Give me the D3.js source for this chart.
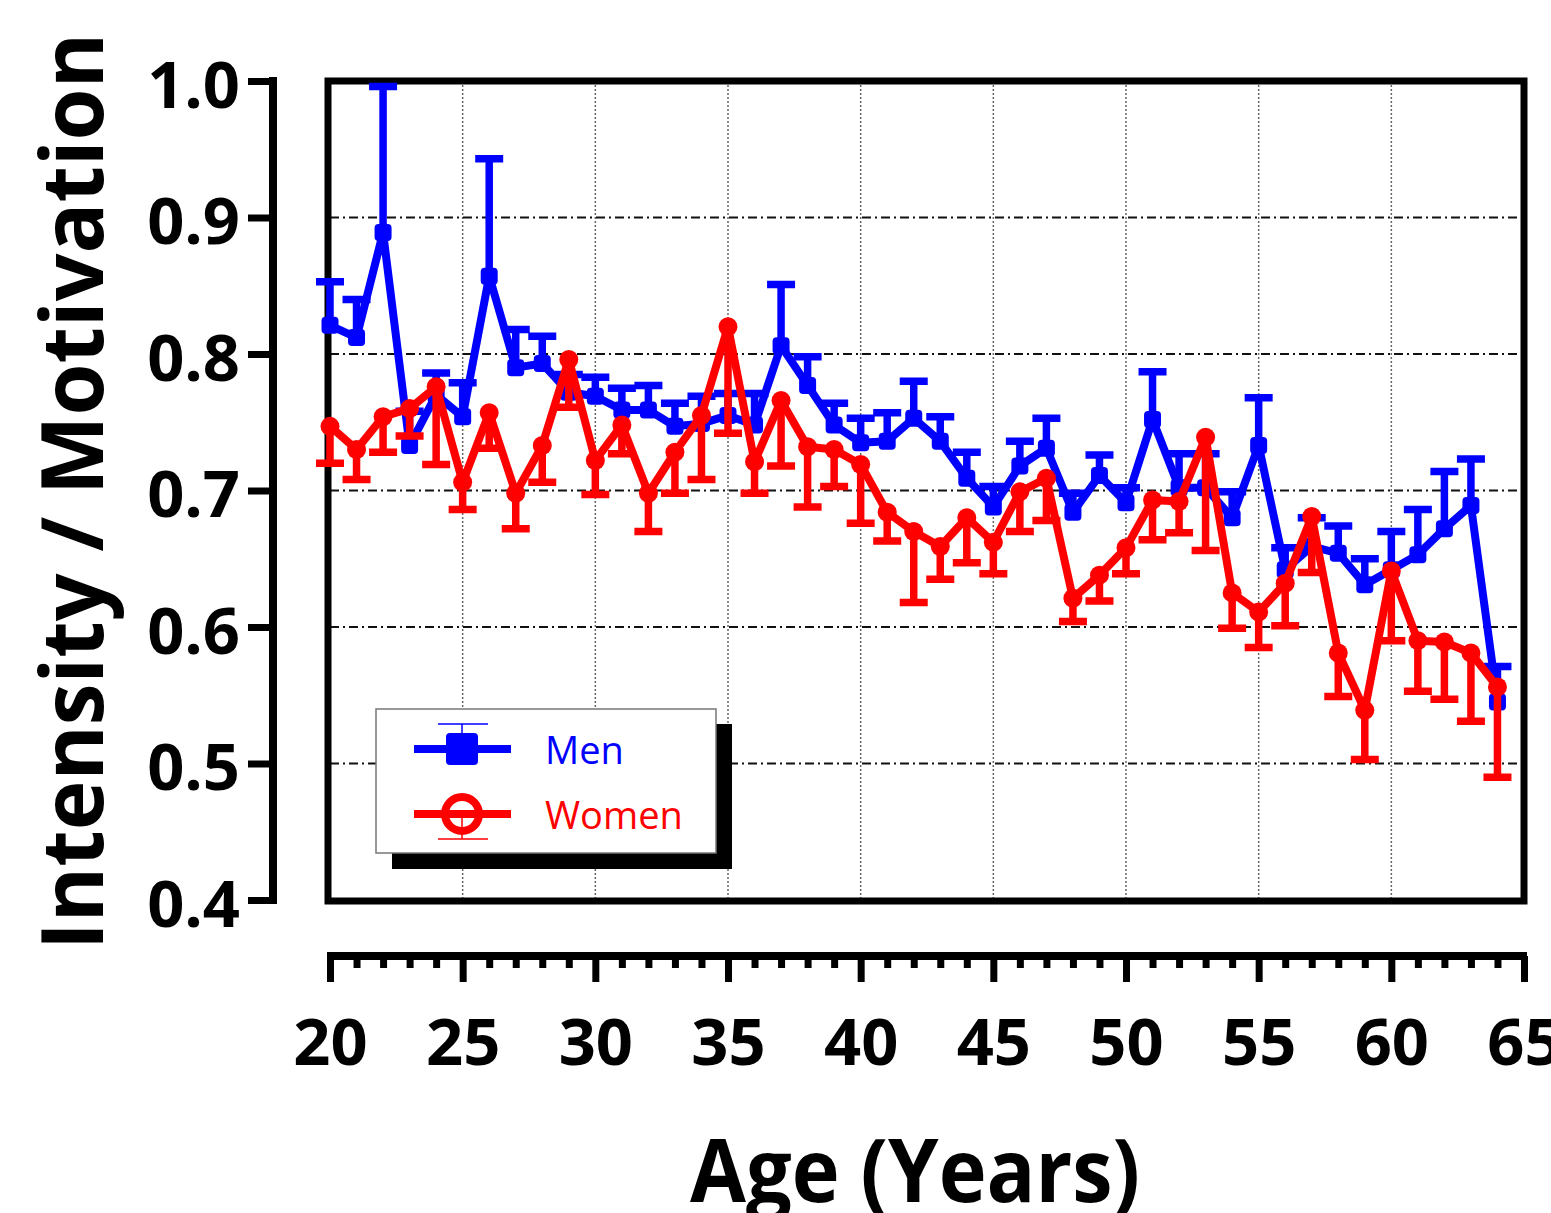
<!DOCTYPE html>
<html>
<head>
<meta charset="utf-8">
<script src="https://cdn.jsdelivr.net/npm/d3@7"></script>
<style>
  html, body { margin: 0; padding: 0; background: #fff; }
  svg { display: block; font-family: 'Open Sans', sans-serif; }
</style>
</head>
<body>
<script>
/* globals d3 */
// Data: mean score per year of age, one-sided SEM (men up, women down)
const ages = [20, 21, 22, 23, 24, 25, 26, 27, 28, 29, 30, 31, 32, 33, 34, 35, 36, 37, 38, 39, 40, 41, 42,
  43, 44, 45, 46, 47, 48, 49, 50, 51, 52, 53, 54, 55, 56, 57, 58, 59, 60, 61, 62, 63, 64]
const menMean = [0.821, 0.812, 0.889, 0.733, 0.770, 0.754, 0.857, 0.790, 0.793, 0.772, 0.769, 0.759, 0.759,
  0.747, 0.749, 0.755, 0.748, 0.806, 0.777, 0.748, 0.735, 0.736, 0.753, 0.736, 0.709, 0.688, 0.718, 0.731,
  0.684, 0.711, 0.691, 0.752, 0.702, 0.702, 0.680, 0.733, 0.642, 0.659, 0.654, 0.631, 0.642, 0.653, 0.672,
  0.689, 0.545]
const menSem = [0.032, 0.028, 0.107, 0.025, 0.016, 0.025, 0.086, 0.028, 0.020, 0.013, 0.014, 0.016, 0.018,
  0.017, 0.020, 0.016, 0.023, 0.045, 0.021, 0.016, 0.018, 0.021, 0.027, 0.018, 0.019, 0.015, 0.018, 0.022,
  0.014, 0.015, 0.011, 0.035, 0.025, 0.025, 0.019, 0.035, 0.016, 0.021, 0.020, 0.019, 0.028, 0.033, 0.042,
  0.034, 0.026]
const womenMean = [0.747, 0.730, 0.754, 0.760, 0.776, 0.706, 0.757, 0.698, 0.733, 0.796, 0.722, 0.748, 0.698,
  0.728, 0.755, 0.820, 0.721, 0.766, 0.732, 0.730, 0.719, 0.684, 0.670, 0.659, 0.680, 0.662, 0.699, 0.709,
  0.621, 0.638, 0.658, 0.693, 0.692, 0.739, 0.625, 0.611, 0.632, 0.681, 0.581, 0.539, 0.641, 0.590, 0.589,
  0.581, 0.556]
const womenSem = [0.027, 0.022, 0.026, 0.020, 0.057, 0.020, 0.026, 0.026, 0.027, 0.035, 0.025, 0.021, 0.028,
  0.030, 0.047, 0.078, 0.023, 0.048, 0.044, 0.027, 0.043, 0.021, 0.052, 0.024, 0.033, 0.023, 0.029, 0.031,
  0.017, 0.019, 0.019, 0.029, 0.023, 0.083, 0.026, 0.026, 0.031, 0.041, 0.032, 0.036, 0.051, 0.037, 0.042,
  0.050, 0.066]
const xTicks = [20, 25, 30, 35, 40, 45, 50, 55, 60, 65]
const yTicks = [0.4, 0.5, 0.6, 0.7, 0.8, 0.9, 1.0]

const width = 1551, height = 1213
const x = d3.scaleLinear().domain([20, 65]).range([330, 1524])
const y = d3.scaleLinear().domain([0.4, 1.0]).range([900, 81])

const svg = d3.select('body').append('svg')
  .attr('width', width)
  .attr('height', height)
  .attr('viewBox', [0, 0, width, height])

// Grid
svg.append('g')
  .selectAll('line')
  .data(xTicks.filter(d => d > 20 && d < 65))
  .join('line')
  .attr('x1', d => x(d)).attr('x2', d => x(d))
  .attr('y1', y(1.0)).attr('y2', y(0.4))
  .attr('stroke', '#666')
  .attr('stroke-width', 1.5)
  .attr('stroke-dasharray', '2,2')
svg.append('g')
  .selectAll('line')
  .data(yTicks.filter(d => d > 0.4 && d < 1.0))
  .join('line')
  .attr('x1', x(20)).attr('x2', x(65))
  .attr('y1', d => y(d)).attr('y2', d => y(d))
  .attr('stroke', '#111')
  .attr('stroke-width', 2)
  .attr('stroke-dasharray', '9,4,2,4')

// Plot frame
svg.append('rect')
  .attr('x', x(20) - 2).attr('y', y(1.0))
  .attr('width', x(65) - x(20) + 2).attr('height', y(0.4) - y(1.0) + 1)
  .attr('fill', 'none')
  .attr('stroke', '#000')
  .attr('stroke-width', 7)

// Y axis (offset to the left)
const yAxis = svg.append('g')
  .attr('transform', 'translate(273,0)')
  .call(d3.axisLeft(y).tickValues(yTicks).tickFormat(d3.format('.1f')).tickSize(25).tickSizeOuter(0).tickPadding(8))
yAxis.select('.domain').attr('stroke-width', 8).attr('d', `M0,${y(0.4) + 4}V${y(1.0) - 4}`)
yAxis.selectAll('.tick line').attr('stroke-width', 7)
yAxis.selectAll('.tick text')
  .attr('font-size', 65)
  .attr('font-weight', 'bold')
  .attr('font-family', 'Open Sans')
  .attr('fill', '#000')
  .attr('dy', '0.4em')

// X axis (offset below), minor tick every year
const xAxis = svg.append('g')
  .attr('transform', 'translate(0,956)')
  .call(d3.axisBottom(x).tickValues(ages.concat([65])).tickFormat(d => d % 5 === 0 ? d : '')
    .tickSize(26).tickSizeOuter(0).tickPadding(37))
xAxis.select('.domain').attr('stroke-width', 8).attr('d', `M${x(20) - 3},0H${x(65) + 3}`)
xAxis.selectAll('.tick line')
  .attr('stroke-width', 7)
  .attr('y2', d => d % 5 === 0 ? 26 : 12)
xAxis.selectAll('.tick text')
  .attr('font-size', 65)
  .attr('font-weight', 'bold')
  .attr('font-family', 'Open Sans')
  .attr('fill', '#000')

// Axis titles
svg.append('text')
  .attr('transform', 'translate(103,950) rotate(-90)')
  .attr('font-size', 86)
  .attr('font-weight', 'bold')
  .attr('textLength', 917)
  .attr('lengthAdjust', 'spacingAndGlyphs')
  .text('Intensity / Motivation')
svg.append('text')
  .attr('x', 690)
  .attr('y', 1202)
  .attr('font-size', 87)
  .attr('font-weight', 'bold')
  .attr('textLength', 450)
  .attr('lengthAdjust', 'spacingAndGlyphs')
  .text('Age (Years)')

// Series
const series = [
  { name: 'Men', color: '#0000ff', mean: menMean, sem: menSem, dir: 1, marker: 'square' },
  { name: 'Women', color: '#ff0000', mean: womenMean, sem: womenSem, dir: -1, marker: 'circle' },
]
const line = d3.line().x(d => x(d.age)).y(d => y(d.v))

series.forEach(s => {
  const pts = ages.map((a, i) => ({ age: a, v: s.mean[i], e: s.mean[i] + s.dir * s.sem[i] }))
  const g = svg.append('g').attr('class', s.name)
  // Error bars
  g.append('g')
    .selectAll('path')
    .data(pts)
    .join('path')
    .attr('d', d => `M${x(d.age)},${y(d.v)}V${y(d.e)}M${x(d.age) - 14},${y(d.e)}H${x(d.age) + 14}`)
    .attr('fill', 'none')
    .attr('stroke', s.color)
    .attr('stroke-width', 7.5)
  g.append('path')
    .datum(pts)
    .attr('d', line)
    .attr('fill', 'none')
    .attr('stroke', s.color)
    .attr('stroke-width', 8)
    .attr('stroke-linejoin', 'round')
  if (s.marker === 'square')
    g.append('g')
      .selectAll('rect')
      .data(pts)
      .join('rect')
      .attr('x', d => x(d.age) - 8.5).attr('y', d => y(d.v) - 8.5)
      .attr('width', 17).attr('height', 17)
      .attr('rx', 4)
      .attr('fill', s.color)
  else
    g.append('g')
      .selectAll('circle')
      .data(pts)
      .join('circle')
      .attr('cx', d => x(d.age)).attr('cy', d => y(d.v))
      .attr('r', 9.5)
      .attr('fill', s.color)
})

// Legend with drop shadow
const legend = svg.append('g')
legend.append('rect')
  .attr('x', 392).attr('y', 724).attr('width', 340).attr('height', 145)
  .attr('fill', '#000')
legend.append('rect')
  .attr('x', 376).attr('y', 709).attr('width', 340).attr('height', 144)
  .attr('fill', '#fff')
  .attr('stroke', '#777')
  .attr('stroke-width', 1.5)

series.forEach((s, i) => {
  const cy = 749 + i * 65
  const g = legend.append('g')
  g.append('path')
    .attr('d', `M462,${cy}V${cy - s.dir * 25}M438,${cy - s.dir * 25}H488`)
    .attr('stroke', s.color)
    .attr('stroke-width', 1.5)
  g.append('line')
    .attr('x1', 414).attr('x2', 511)
    .attr('y1', cy).attr('y2', cy)
    .attr('stroke', s.color)
    .attr('stroke-width', 8)
  if (s.marker === 'square')
    g.append('rect')
      .attr('x', 446).attr('y', cy - 16)
      .attr('width', 32).attr('height', 32)
      .attr('rx', 4)
      .attr('fill', s.color)
  else
    g.append('circle')
      .attr('cx', 462).attr('cy', cy)
      .attr('r', 17)
      .attr('fill', 'none')
      .attr('stroke', s.color)
      .attr('stroke-width', 8)
  g.append('text')
    .attr('x', 545)
    .attr('y', cy + 15)
    .attr('font-size', 38)
    .attr('fill', s.color)
    .text(s.name)
})
</script>
</body>
</html>
